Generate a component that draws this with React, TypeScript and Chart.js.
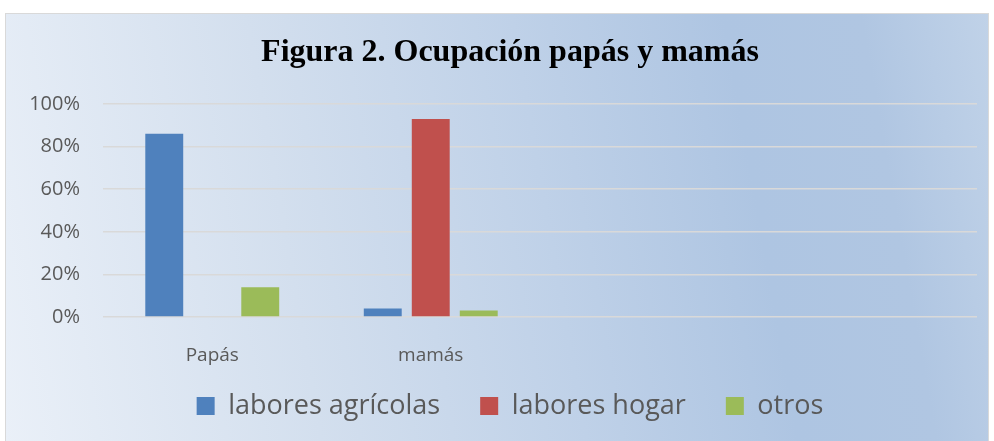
import React, { useEffect, useRef } from 'react';
import { Chart, registerables } from 'chart.js';
Chart.register(...registerables);

const categories = ['Papás', 'mamás', '', ''];
const laboresAgricolas = [0.86, 0.04, null, null];
const laboresHogar = [0, 0.93, null, null];
const otros = [0.14, 0.03, null, null];
const seriesNames = ['labores agrícolas', 'labores hogar', 'otros'];
const seriesColors = ['#4f81bd', '#c0504d', '#9bbb59'];
const titleText = 'Figura 2. Ocupación papás y mamás';

const noLabelClip = {
  id: 'noLabelClip',
  beforeDraw(chart: any) {
    const x = chart.scales.x;
    if (x) x._computeLabelArea = () => undefined;
  },
};

export default function App() {
  const ref = useRef<HTMLCanvasElement>(null);
  useEffect(() => {
    document.body.style.margin = '0';
    const values = [laboresAgricolas, laboresHogar, otros];
    const chart = new Chart(ref.current!, {
      type: 'bar',
      data: {
        labels: categories,
        datasets: seriesNames.map((name, i) => ({
          label: name,
          data: values[i],
          backgroundColor: seriesColors[i],
          borderWidth: 0,
          categoryPercentage: 0.659,
          barPercentage: 0.79,
          yAxisID: 'y',
        })),
      },
      plugins: [noLabelClip],
      options: {
        animation: false,
        responsive: false,
        layout: { padding: { left: 0, right: 0, top: 34, bottom: 11.5 } },
        plugins: {
          title: {
            display: true,
            text: titleText,
            color: '#000000',
            font: { family: 'Liberation Serif', size: 32, weight: 'bold' },
            padding: { top: 0, bottom: 31.6 },
          },
          legend: {
            position: 'bottom',
            labels: {
              boxWidth: 18,
              boxHeight: 18,
              color: '#595959',
              font: { family: 'Open Sans', size: 27 },
              padding: 40,
            },
          },
          tooltip: { enabled: false },
        },
        scales: {
          x: {
            afterFit: (s: any) => { s.height = 35.5; },
            grid: { display: false },
            border: { display: false },
            ticks: {
              color: '#595959',
              font: { family: 'Open Sans', size: 19 },
              padding: 19,
              maxRotation: 0,
              autoSkip: false,
            },
          },
          y: {
            min: 0,
            max: 1,
            afterFit: (s: any) => { s.width = 103; },
            grid: { color: '#d9d9d9', lineWidth: 1.6, drawTicks: false },
            border: { display: false },
            ticks: {
              stepSize: 0.2,
              padding: 23,
              color: '#595959',
              font: { family: 'Open Sans', size: 20 },
              callback: (v: any) => Math.round(Number(v) * 100) + '%',
            },
          },
          y2: {
            type: 'linear',
            position: 'right',
            afterFit: (s: any) => { s.width = 43; },
            grid: { display: false },
            border: { display: false },
            ticks: { display: false },
          },
        },
      },
    });
    return () => chart.destroy();
  }, []);
  return (
    <div style={{ position: 'relative', width: 994, height: 441, overflow: 'hidden' }}>
      <div
        style={{
          position: 'absolute',
          left: 5,
          top: 13,
          width: 982,
          height: 440,
          border: '1px solid #d9d9d9',
          background:
            'linear-gradient(80deg, #eaf0f8 0%, #d3dfee 30%, #bfd1e8 55%, #aec5e2 75%, #b0c6e2 88%, #c0d2e8 100%)',
        }}
      />
      <canvas ref={ref} width={1020} height={441} style={{ position: 'absolute', left: 0, top: 0 }} />
    </div>
  );
}
